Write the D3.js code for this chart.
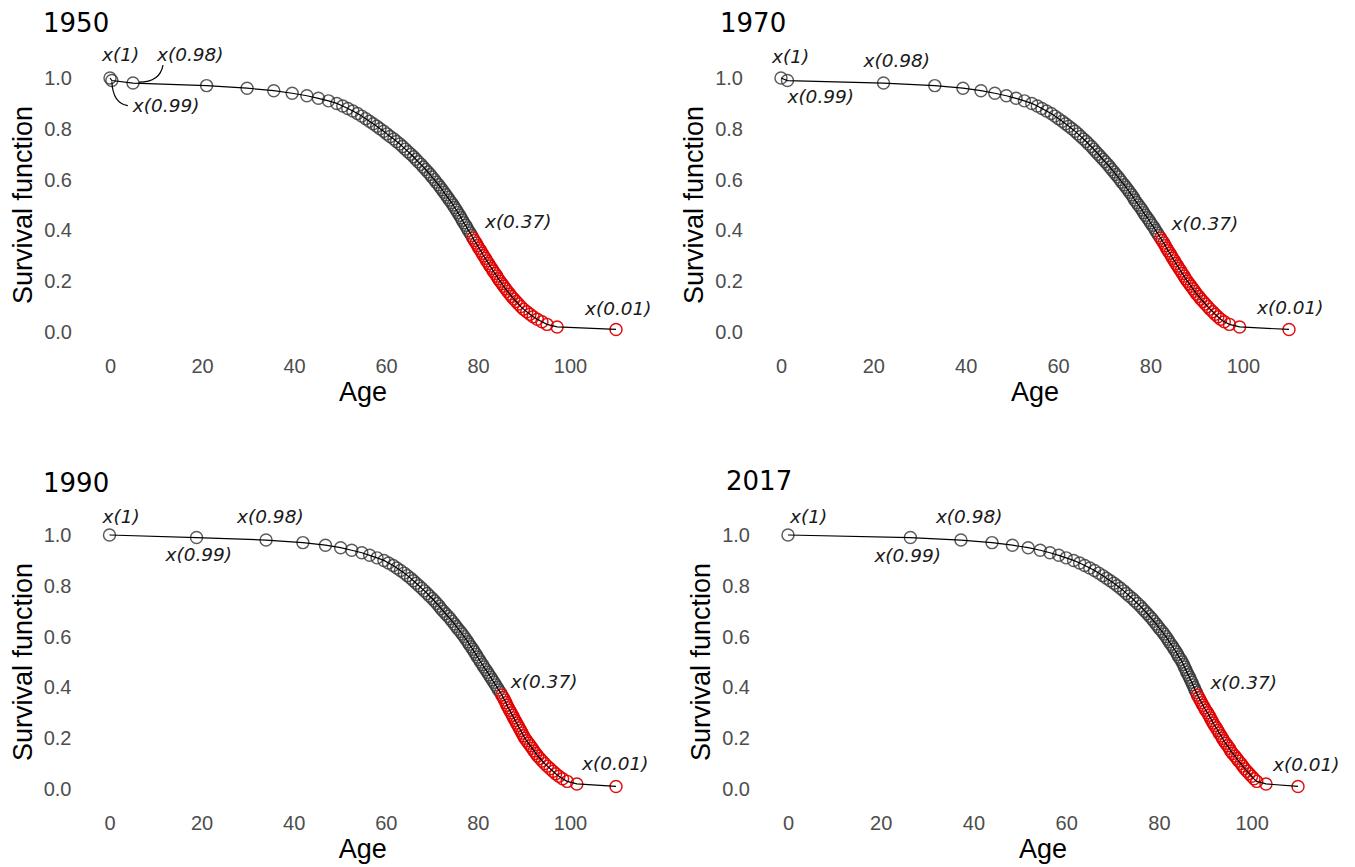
<!DOCTYPE html>
<html>
<head>
<meta charset="utf-8">
<script src="https://cdn.jsdelivr.net/npm/d3@7"></script>
<style>
  body { margin: 0; background: #fff; }
  svg { display: block; }
  .tick text { font-family: "Liberation Sans", Arial, sans-serif; font-size: 20px; fill: #4d4d4d; }
  .axis-title { font-family: "Liberation Sans", Arial, sans-serif; font-size: 27px; fill: #000; }
  .panel-title { font-family: "DejaVu Sans", sans-serif; font-size: 26px; fill: #000; }
  .note { font-family: "DejaVu Sans", sans-serif; font-style: italic; font-size: 18.5px; fill: #1a1a1a; }
</style>
</head>
<body>
<div id="chart"></div>
<script>
// Survival function by year: age x(s) reached by a share s of the cohort

const LEVELS = [
    1.00, 0.99, 0.98, 0.97, 0.96, 0.95, 0.94, 0.93, 0.92, 0.91,
    0.90, 0.89, 0.88, 0.87, 0.86, 0.85, 0.84, 0.83, 0.82, 0.81,
    0.80, 0.79, 0.78, 0.77, 0.76, 0.75, 0.74, 0.73, 0.72, 0.71,
    0.70, 0.69, 0.68, 0.67, 0.66, 0.65, 0.64, 0.63, 0.62, 0.61,
    0.60, 0.59, 0.58, 0.57, 0.56, 0.55, 0.54, 0.53, 0.52, 0.51,
    0.50, 0.49, 0.48, 0.47, 0.46, 0.45, 0.44, 0.43, 0.42, 0.41,
    0.40, 0.39, 0.38, 0.37, 0.36, 0.35, 0.34, 0.33, 0.32, 0.31,
    0.30, 0.29, 0.28, 0.27, 0.26, 0.25, 0.24, 0.23, 0.22, 0.21,
    0.20, 0.19, 0.18, 0.17, 0.16, 0.15, 0.14, 0.13, 0.12, 0.11,
    0.10, 0.09, 0.08, 0.07, 0.06, 0.05, 0.04, 0.03, 0.02, 0.01
];

const AGES_1950 = [
    0, 0.4, 5.0, 21.0, 29.8, 35.6, 39.6, 42.8, 45.3, 47.5,
    49.3, 50.6, 51.7, 52.8, 53.8, 54.7, 55.6, 56.4, 57.2, 58.0,
    58.7, 59.5, 60.2, 60.9, 61.7, 62.3, 63.0, 63.6, 64.2, 64.8,
    65.4, 66.0, 66.5, 67.0, 67.6, 68.1, 68.6, 69.1, 69.6, 70.0,
    70.5, 70.9, 71.4, 71.8, 72.2, 72.6, 73.0, 73.4, 73.8, 74.2,
    74.6, 74.9, 75.3, 75.6, 76.0, 76.3, 76.6, 76.9, 77.3, 77.6,
    77.9, 78.3, 78.6, 78.9, 79.2, 79.6, 79.9, 80.2, 80.6, 80.9,
    81.2, 81.6, 81.9, 82.3, 82.6, 83.0, 83.3, 83.7, 84.1, 84.4,
    84.8, 85.2, 85.6, 86.0, 86.4, 86.9, 87.3, 87.8, 88.3, 88.8,
    89.3, 89.9, 90.6, 91.3, 92.0, 92.9, 93.9, 95.0, 97.2, 110
];

const AGES_1970 = [
    0, 1.4, 22.2, 33.3, 39.4, 43.3, 46.3, 48.8, 50.9, 52.7,
    54.3, 55.5, 56.5, 57.5, 58.5, 59.3, 60.1, 60.9, 61.6, 62.3,
    63.0, 63.7, 64.3, 64.9, 65.5, 66.1, 66.6, 67.2, 67.7, 68.2,
    68.7, 69.2, 69.7, 70.2, 70.7, 71.2, 71.6, 72.1, 72.5, 73.0,
    73.4, 73.8, 74.3, 74.7, 75.1, 75.5, 75.9, 76.3, 76.6, 77.0,
    77.4, 77.8, 78.2, 78.5, 78.9, 79.3, 79.7, 80.0, 80.4, 80.8,
    81.1, 81.5, 81.8, 82.2, 82.5, 82.9, 83.2, 83.5, 83.8, 84.2,
    84.5, 84.8, 85.2, 85.5, 85.9, 86.2, 86.6, 86.9, 87.3, 87.6,
    88.0, 88.4, 88.8, 89.2, 89.6, 90.0, 90.5, 90.9, 91.4, 91.9,
    92.4, 92.9, 93.5, 94.0, 94.6, 95.2, 96.0, 97.1, 99.3, 110
];

const AGES_1990 = [
    0, 18.9, 34.0, 42.0, 46.9, 50.2, 52.6, 54.8, 56.5, 58.1,
    59.6, 60.6, 61.6, 62.4, 63.2, 64.0, 64.7, 65.4, 66.0, 66.6,
    67.2, 67.8, 68.4, 69.0, 69.5, 70.1, 70.6, 71.1, 71.6, 72.0,
    72.5, 73.0, 73.5, 74.0, 74.4, 74.9, 75.3, 75.7, 76.2, 76.6,
    77.0, 77.4, 77.8, 78.1, 78.5, 78.9, 79.2, 79.6, 79.9, 80.3,
    80.6, 81.0, 81.3, 81.7, 82.1, 82.4, 82.8, 83.1, 83.5, 83.8,
    84.2, 84.5, 84.9, 85.2, 85.5, 85.8, 86.1, 86.3, 86.6, 86.9,
    87.2, 87.5, 87.8, 88.1, 88.4, 88.7, 89.0, 89.3, 89.6, 89.9,
    90.2, 90.6, 91.0, 91.4, 91.8, 92.2, 92.6, 93.0, 93.5, 94.0,
    94.5, 95.1, 95.7, 96.3, 96.9, 97.6, 98.4, 99.4, 101.5, 110
];

const AGES_2017 = [
    0, 26.4, 37.3, 44.0, 48.4, 51.8, 54.4, 56.5, 58.4, 60.0,
    61.6, 62.9, 64.0, 65.1, 66.1, 67.0, 67.9, 68.7, 69.5, 70.3,
    71.0, 71.7, 72.4, 73.0, 73.6, 74.3, 74.8, 75.4, 76.0, 76.5,
    77.0, 77.5, 78.0, 78.5, 78.9, 79.4, 79.8, 80.2, 80.7, 81.1,
    81.5, 81.9, 82.2, 82.6, 83.0, 83.3, 83.7, 84.0, 84.3, 84.7,
    85.0, 85.3, 85.5, 85.8, 86.0, 86.3, 86.6, 86.8, 87.1, 87.3,
    87.6, 87.8, 88.1, 88.3, 88.6, 88.9, 89.2, 89.5, 89.8, 90.1,
    90.5, 90.8, 91.1, 91.4, 91.7, 92.0, 92.4, 92.7, 93.0, 93.4,
    93.7, 94.0, 94.4, 94.8, 95.2, 95.5, 95.9, 96.4, 96.8, 97.2,
    97.7, 98.1, 98.5, 99.0, 99.5, 100.0, 100.5, 101.1, 103.1, 110
];

const YEARS = ['1950', '1970', '1990', '2017'];
const SERIES = [AGES_1950, AGES_1970, AGES_1990, AGES_2017];
const X_TICKS = [0, 20, 40, 60, 80, 100];
const Y_TICKS = [0.0, 0.2, 0.4, 0.6, 0.8, 1.0];
const RED_FROM = 0.37;

// layout of the four panels (pixel frame of age 0..110, share 0..1)
const PANELS = [
    { x0: 110, x1: 616, y0: 332, y1: 78, tx: 43, ty: 31.5 },
    { x0: 781, x1: 1289, y0: 332, y1: 78, tx: 720, ty: 31.5 },
    { x0: 109.5, x1: 616, y0: 789, y1: 535, tx: 43, ty: 491.5 },
    { x0: 788, x1: 1298, y0: 789, y1: 535, tx: 726, ty: 489.5 }
];

// annotation offsets from the labelled point: [level, dx, dy]
const NOTES = [
    [[1, -8, -17], [0.99, 21, 31], [0.98, 24, -22], [0.37, 12, -10], [0.01, -31, -14]],
    [[1, -9, -15], [0.99, 0, 22.5], [0.98, -20, -16], [0.37, 11, -8], [0.01, -32, -15]],
    [[1, -7, -12], [0.99, -31, 23.5], [0.98, -29, -17], [0.37, 9, -7], [0.01, -34, -16]],
    [[1, 2, -12], [0.99, -36, 24.5], [0.98, -25, -17], [0.37, 13, -6], [0.01, -25, -15]]
];

const svg = d3.select('#chart').append('svg')
    .attr('width', 1355)
    .attr('height', 867);

function drawPanel(p, i) {
    const ages = SERIES[i];
    const pts = LEVELS.map((s, k) => ({ s: s, age: ages[k] }));

    const x = d3.scaleLinear().domain([0, 110]).range([p.x0, p.x1]);
    const y = d3.scaleLinear().domain([0, 1]).range([p.y0, p.y1]);

    const g = svg.append('g');

    // axes: labels only, no lines
    const xAxis = g.append('g')
        .attr('transform', `translate(0,${p.y0})`)
        .call(d3.axisBottom(x).tickValues(X_TICKS).tickSize(0).tickPadding(27));
    xAxis.select('.domain').remove();

    const yAxis = g.append('g')
        .attr('transform', `translate(${p.x0},0)`)
        .call(d3.axisLeft(y).tickValues(Y_TICKS).tickSize(0).tickPadding(38)
            .tickFormat(d3.format('.1f')));
    yAxis.select('.domain').remove();

    g.append('text')
        .attr('class', 'axis-title')
        .attr('x', (p.x0 + p.x1) / 2)
        .attr('y', p.y0 + 69)
        .attr('text-anchor', 'middle')
        .text('Age');

    g.append('text')
        .attr('class', 'axis-title')
        .attr('transform', `translate(${p.x0 - 78},${(p.y0 + p.y1) / 2}) rotate(-90)`)
        .attr('text-anchor', 'middle')
        .text('Survival function');

    g.append('text')
        .attr('class', 'panel-title')
        .attr('x', p.tx)
        .attr('y', p.ty)
        .text(YEARS[i]);

    // points
    g.selectAll('.point')
        .data(pts)
        .enter()
        .append('circle')
        .attr('class', 'point')
        .attr('cx', d => x(d.age))
        .attr('cy', d => y(d.s))
        .attr('r', 6)
        .attr('fill', 'none')
        .attr('stroke', d => d.s <= RED_FROM + 1e-9 ? '#e00000' : '#333')
        .attr('stroke-opacity', d => d.s <= RED_FROM + 1e-9 ? 0.95 : 0.8)
        .attr('stroke-width', 1.45);

    // connecting line
    const line = d3.line().x(d => x(d.age)).y(d => y(d.s));
    g.append('path')
        .datum(pts)
        .attr('d', line)
        .attr('fill', 'none')
        .attr('stroke', '#000')
        .attr('stroke-width', 1.2);

    // annotations
    NOTES[i].forEach(n => {
        const k = LEVELS.indexOf(n[0]);
        const px = x(pts[k].age);
        const py = y(pts[k].s);
        g.append('text')
            .attr('class', 'note')
            .attr('x', px + n[1])
            .attr('y', py + n[2])
            .text(`x(${n[0]})`);
    });

    // curved leaders for the crowded 1950 start
    if (i === 0) {
        const p98 = [x(pts[2].age), y(pts[2].s)];
        const p99 = [x(pts[1].age), y(pts[1].s)];
        const curves = [
            `M${p98[0] + 30},${p98[1] - 18} Q${p98[0] + 27},${p98[1] - 1} ${p98[0] + 6},${p98[1] - 1}`,
            `M${p99[0] + 16},${p99[1] + 25} Q${p99[0] + 1},${p99[1] + 23} ${p99[0] + 0},${p99[1] + 1}`
        ];
        curves.forEach(c => {
            g.append('path')
                .attr('d', c)
                .attr('fill', 'none')
                .attr('stroke', '#000')
                .attr('stroke-width', 1.2);
        });
    }
}

PANELS.forEach(drawPanel);
</script>
</body>
</html>
